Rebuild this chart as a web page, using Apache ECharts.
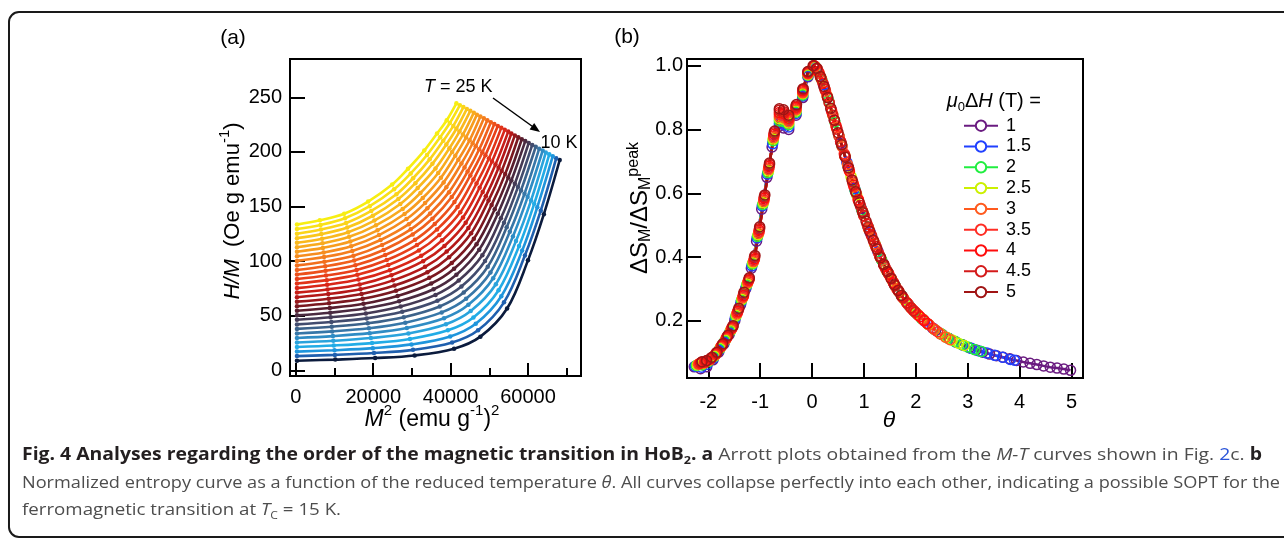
<!DOCTYPE html>
<html><head><meta charset="utf-8">
<script src="https://cdn.jsdelivr.net/npm/echarts@6/dist/echarts.min.js"></script>
<style>html,body{margin:0;padding:0;background:#fff}#c{width:1284px;height:540px}</style>
</head><body><div id="c"></div>
<script>
// ---------------- DATA ----------------
// Panel (a): Arrott plots, one curve per temperature (K)
const temperaturesK = [10,10.5,11,11.5,12,12.5,13,13.5,14,14.5,15,15.5,16,16.5,17,17.5,18,18.5,19,19.5,20,20.5,21,21.5,22,22.5,23,23.5,24,24.5,25];
// M^2 values, (emu g^-1)^2
const arrottM2 = [
[300,10200,20500,30700,40900,47700,54600,60000,64100,68200],
[300,10100,20200,30300,40400,47100,53800,59200,63300,67300],
[300,10000,19900,29900,39900,46500,53100,58500,62400,66400],
[300,9800,19700,29500,39300,45900,52400,57700,61600,65500],
[300,9700,19400,29100,38800,45200,51700,56900,60800,64600],
[300,9600,19100,28700,38300,44600,51000,56100,59900,63800],
[300,9400,18900,28300,37700,44000,50300,55300,59100,62900],
[300,9300,18600,27900,37200,43400,49600,54500,58200,62000],
[300,9200,18300,27500,36600,42800,48900,53800,57400,61100],
[300,9000,18100,27100,36100,42100,48200,53000,56600,60200],
[300,8900,17800,26700,35600,41500,47400,52200,55700,59300],
[300,8800,17500,26300,35000,40900,46700,51400,54900,58400],
[300,8600,17300,25900,34500,40300,46000,50600,54100,57500],
[300,8500,17000,25500,34000,39600,45300,49800,53200,56600],
[300,8400,16700,25100,33400,39000,44600,49100,52400,55700],
[300,8200,16500,24700,32900,38400,43900,48300,51600,54900],
[300,8100,16200,24300,32400,37800,43200,47500,50700,54000],
[300,8000,15900,23900,31800,37100,42500,46700,49900,53100],
[300,7800,15700,23500,31300,36500,41800,45900,49000,52200],
[300,7700,15400,23100,30800,35900,41000,45100,48200,51300],
[300,7600,15100,22700,30200,35300,40300,44400,47400,50400],
[300,7400,14900,22300,29700,34700,39600,43600,46500,49500],
[300,7300,14600,21900,29200,34000,38900,42800,45700,48600],
[300,7200,14300,21500,28600,33400,38200,42000,44900,47700],
[300,7000,14100,21100,28100,32800,37500,41200,44000,46800],
[300,6900,13800,20700,27600,32200,36800,40400,43200,46000],
[300,6800,13500,20300,27000,31500,36100,39700,42300,45100],
[300,6600,13300,19900,26500,30900,35300,38900,41500,44200],
[300,6500,13000,19500,26000,30300,34600,38100,40700,43300],
[300,6400,12700,19100,25400,29700,33900,37300,39800,42400],
[300,6200,12500,18700,24900,29000,33200,36500,39000,41500]
];
// H/M values, Oe g emu^-1
const arrottHM = [
[9,10,11.4,13.8,20,31,56.7,100.8,143,192.6],
[13.2,14.3,16,18.9,25.7,36.9,62.4,105.2,146.2,194.3],
[17.3,18.6,20.5,23.9,31.2,42.8,68,109.7,149.4,196.1],
[21.5,22.9,25.1,28.9,36.8,48.6,73.5,114,152.5,197.8],
[25.6,27.2,29.7,33.9,42.3,54.4,78.9,118.4,155.6,199.5],
[29.8,31.5,34.2,38.9,47.8,60.1,84.4,122.7,158.7,201.3],
[33.9,35.8,38.7,43.8,53.2,65.7,89.7,126.9,161.7,203],
[38.1,40.1,43.2,48.8,58.6,71.3,95,131.1,164.8,204.7],
[42.2,44.4,47.7,53.7,63.9,76.8,100.2,135.3,167.8,206.4],
[46.4,48.7,52.2,58.5,69.2,82.3,105.4,139.4,170.8,208.2],
[50.5,52.9,56.7,63.4,74.4,87.7,110.6,143.5,173.8,209.9],
[54.7,57.2,61.1,68.2,79.6,93.1,115.6,147.5,176.7,211.6],
[58.8,61.5,65.6,73,84.8,98.4,120.6,151.5,179.7,213.4],
[63,65.7,70,77.7,89.9,103.6,125.6,155.5,182.6,215.1],
[67.1,70,74.4,82.5,94.9,108.8,130.5,159.4,185.5,216.8],
[71.3,74.2,78.8,87.2,100,114,135.3,163.3,188.4,218.6],
[75.4,78.5,83.2,91.8,104.9,119.1,140.1,167.2,191.2,220.3],
[79.6,82.7,87.6,96.5,109.9,124.1,144.9,171,194,222],
[83.7,86.9,92,101.1,114.8,129.1,149.5,174.7,196.9,223.7],
[87.9,91.2,96.4,105.7,119.6,134,154.2,178.5,199.6,225.5],
[92,95.4,100.7,110.3,124.5,138.9,158.7,182.1,202.4,227.2],
[96.2,99.6,105,114.9,129.2,143.7,163.2,185.8,205.2,228.9],
[100.3,103.8,109.4,119.4,133.9,148.5,167.7,189.4,207.9,230.7],
[104.5,108,113.7,123.9,138.6,153.2,172.1,192.9,210.6,232.4],
[108.6,112.2,118,128.3,143.2,157.8,176.4,196.5,213.3,234.1],
[112.8,116.4,122.3,132.8,147.8,162.4,180.7,200,216,235.9],
[116.9,120.6,126.5,137.2,152.4,167,184.9,203.4,218.6,237.6],
[121.1,124.8,130.8,141.6,156.9,171.4,189.1,206.8,221.2,239.3],
[125.2,129,135,146,161.3,175.9,193.2,210.2,223.8,241],
[129.4,133.2,139.3,150.3,165.8,180.3,197.2,213.5,226.4,242.8],
[133.5,137.4,143.5,154.6,170.1,184.6,201.2,216.8,229,244.5]
];
// Panel (b): normalized entropy change vs reduced temperature, per field change (T)
const fieldLabels = ['1','1.5','2','2.5','3','3.5','4','4.5','5'];
const dS_1 = [[-2.27,0.056],[-2.15,0.05],[-2.03,0.056],[-1.91,0.078],[-1.8,0.102],[-1.7,0.128],[-1.6,0.157],[-1.49,0.2],[-1.38,0.25],[-1.28,0.3],[-1.17,0.365],[-1.07,0.45],[-0.97,0.55],[-0.87,0.65],[-0.77,0.745],[-0.63,0.81],[-0.55,0.805],[-0.45,0.8],[-0.31,0.845],[-0.18,0.9],[-0.08,0.965],
 [0.04,1.0],[0.17,0.962],[0.3,0.9],[0.43,0.829],[0.56,0.757],[0.69,0.686],[0.82,0.615],[0.95,0.552],[1.08,0.494],[1.21,0.441],[1.34,0.391],[1.47,0.349],[1.6,0.31],[1.73,0.278],[1.86,0.25],[1.99,0.227],[2.12,0.207],[2.25,0.188],[2.38,0.171],[2.51,0.157],[2.64,0.145],[2.77,0.134],[2.9,0.125],[3.03,0.116],[3.16,0.109],[3.29,0.102],[3.42,0.096],[3.55,0.091],[3.68,0.086],[3.81,0.081],[3.94,0.076],[4.07,0.071],[4.2,0.067],[4.33,0.063],[4.46,0.059],[4.59,0.055],[4.72,0.052],[4.85,0.049],[4.98,0.045]];
const dS_1p5 = [[-2.25,0.058],[-2.13,0.055],[-2.02,0.064],[-1.9,0.083],[-1.79,0.108],[-1.69,0.133],[-1.59,0.162],[-1.48,0.208],[-1.37,0.258],[-1.27,0.306],[-1.16,0.372],[-1.06,0.46],[-0.96,0.56],[-0.86,0.66],[-0.76,0.755],[-0.63,0.818],[-0.55,0.815],[-0.45,0.808],[-0.31,0.85],[-0.18,0.905],[-0.08,0.968],
 [0.07,0.995],[0.22,0.94],[0.37,0.862],[0.52,0.779],[0.67,0.697],[0.82,0.614],[0.97,0.543],[1.12,0.477],[1.27,0.417],[1.42,0.363],[1.57,0.319],[1.72,0.28],[1.87,0.248],[2.02,0.222],[2.17,0.199],[2.32,0.178],[2.47,0.161],[2.62,0.146],[2.77,0.134],[2.92,0.123],[3.07,0.114],[3.22,0.106],[3.37,0.099],[3.52,0.092],[3.67,0.086],[3.82,0.079],[3.9,0.077]];
const dS_2 = [[-2.23,0.06],[-2.12,0.062],[-2.0,0.072],[-1.89,0.088],[-1.78,0.112],[-1.68,0.137],[-1.58,0.166],[-1.47,0.214],[-1.36,0.264],[-1.26,0.312],[-1.15,0.378],[-1.05,0.465],[-0.95,0.565],[-0.85,0.665],[-0.75,0.765],[-0.63,0.827],[-0.55,0.825],[-0.45,0.815],[-0.31,0.854],[-0.18,0.908],[-0.08,0.97],
 [0.06,0.997],[0.19,0.954],[0.32,0.89],[0.44,0.823],[0.57,0.751],[0.7,0.68],[0.83,0.609],[0.96,0.547],[1.08,0.494],[1.21,0.441],[1.34,0.391],[1.47,0.349],[1.6,0.31],[1.72,0.28],[1.85,0.252],[1.98,0.228],[2.11,0.207],[2.24,0.189],[2.36,0.173],[2.49,0.159],[2.62,0.146],[2.75,0.136],[2.88,0.126],[3.0,0.118],[3.13,0.11],[3.26,0.104]];
const dS_2p5 = [[-2.21,0.062],[-2.1,0.066],[-1.99,0.076],[-1.88,0.09],[-1.77,0.115],[-1.67,0.14],[-1.57,0.17],[-1.46,0.218],[-1.35,0.268],[-1.25,0.316],[-1.14,0.382],[-1.04,0.47],[-0.94,0.57],[-0.84,0.67],[-0.75,0.77],[-0.63,0.834],[-0.55,0.832],[-0.45,0.82],[-0.31,0.858],[-0.18,0.912],[-0.08,0.972],
 [0.06,0.997],[0.17,0.962],[0.29,0.905],[0.4,0.845],[0.52,0.779],[0.63,0.718],[0.75,0.653],[0.86,0.595],[0.98,0.539],[1.09,0.489],[1.21,0.441],[1.32,0.398],[1.44,0.356],[1.55,0.325],[1.67,0.292],[1.78,0.266],[1.9,0.242],[2.01,0.224],[2.13,0.206],[2.24,0.189],[2.36,0.173],[2.47,0.161],[2.59,0.149],[2.7,0.14],[2.82,0.13],[2.93,0.123]];
const dS_3 = [[-2.19,0.064],[-2.08,0.068],[-1.97,0.078],[-1.87,0.093],[-1.76,0.118],[-1.66,0.143],[-1.56,0.173],[-1.45,0.222],[-1.34,0.272],[-1.24,0.32],[-1.13,0.386],[-1.03,0.475],[-0.93,0.575],[-0.84,0.675],[-0.74,0.775],[-0.63,0.84],[-0.55,0.838],[-0.45,0.825],[-0.31,0.862],[-0.18,0.915],[-0.08,0.974],
 [0.05,0.998],[0.16,0.966],[0.26,0.92],[0.37,0.862],[0.47,0.806],[0.58,0.746],[0.68,0.691],[0.79,0.631],[0.89,0.58],[1.0,0.53],[1.1,0.485],[1.21,0.441],[1.31,0.401],[1.42,0.363],[1.52,0.334],[1.63,0.301],[1.73,0.276],[1.84,0.254],[1.94,0.235],[2.05,0.218],[2.15,0.203],[2.26,0.187],[2.36,0.173],[2.47,0.159],[2.57,0.149],[2.66,0.141]];
const dS_3p5 = [[-2.17,0.066],[-2.07,0.07],[-1.96,0.08],[-1.86,0.095],[-1.75,0.12],[-1.65,0.146],[-1.55,0.176],[-1.44,0.226],[-1.33,0.276],[-1.23,0.324],[-1.12,0.39],[-1.02,0.48],[-0.93,0.58],[-0.83,0.68],[-0.74,0.78],[-0.63,0.847],[-0.55,0.844],[-0.45,0.83],[-0.31,0.866],[-0.18,0.918],[-0.08,0.976],
 [0.05,0.998],[0.14,0.976],[0.24,0.93],[0.33,0.884],[0.43,0.829],[0.52,0.779],[0.62,0.724],[0.71,0.675],[0.81,0.62],[0.9,0.575],[1.0,0.53],[1.09,0.49],[1.19,0.449],[1.28,0.413],[1.38,0.377],[1.47,0.349],[1.57,0.319],[1.66,0.295],[1.76,0.271],[1.85,0.252],[1.95,0.233],[2.04,0.219],[2.14,0.204],[2.23,0.191],[2.33,0.177],[2.42,0.166]];
const dS_4 = [[-2.15,0.068],[-2.05,0.072],[-1.95,0.082],[-1.85,0.098],[-1.74,0.122],[-1.64,0.149],[-1.54,0.179],[-1.43,0.23],[-1.32,0.28],[-1.22,0.328],[-1.11,0.395],[-1.02,0.485],[-0.92,0.585],[-0.83,0.685],[-0.73,0.785],[-0.63,0.853],[-0.55,0.85],[-0.45,0.835],[-0.31,0.87],[-0.18,0.922],[-0.08,0.978],
 [0.04,1.0],[0.12,0.982],[0.21,0.945],[0.29,0.905],[0.38,0.856],[0.46,0.812],[0.55,0.762],[0.63,0.718],[0.72,0.669],[0.8,0.625],[0.89,0.58],[0.97,0.544],[1.06,0.503],[1.14,0.469],[1.23,0.433],[1.31,0.401],[1.4,0.37],[1.48,0.346],[1.57,0.319],[1.65,0.297],[1.74,0.276],[1.82,0.258],[1.91,0.24],[1.99,0.227],[2.08,0.213],[2.16,0.201],[2.22,0.192]];
const dS_4p5 = [[-2.13,0.07],[-2.04,0.074],[-1.94,0.084],[-1.84,0.1],[-1.73,0.125],[-1.63,0.152],[-1.53,0.182],[-1.42,0.235],[-1.32,0.285],[-1.21,0.332],[-1.11,0.4],[-1.01,0.49],[-0.92,0.59],[-0.82,0.69],[-0.73,0.79],[-0.63,0.86],[-0.55,0.856],[-0.45,0.84],[-0.31,0.874],[-0.18,0.925],[-0.08,0.98],
 [0.03,1.0],[0.1,0.99],[0.18,0.958],[0.25,0.925],[0.33,0.884],[0.4,0.845],[0.48,0.801],[0.55,0.762],[0.63,0.718],[0.7,0.68],[0.78,0.636],[0.85,0.6],[0.93,0.562],[1.0,0.53],[1.08,0.494],[1.15,0.465],[1.23,0.433],[1.3,0.405],[1.38,0.377],[1.45,0.355],[1.53,0.331],[1.6,0.31],[1.68,0.29],[1.75,0.273],[1.83,0.256],[1.9,0.242],[1.96,0.232]];
const dS_5 = [[-2.12,0.072],[-2.03,0.076],[-1.93,0.086],[-1.83,0.102],[-1.72,0.128],[-1.62,0.155],[-1.52,0.185],[-1.41,0.24],[-1.31,0.29],[-1.21,0.335],[-1.1,0.405],[-1.01,0.495],[-0.91,0.595],[-0.82,0.695],[-0.72,0.795],[-0.63,0.865],[-0.55,0.862],[-0.45,0.845],[-0.3,0.878],[-0.17,0.928],[-0.08,0.982],
 [0.02,1.0],[0.09,0.992],[0.16,0.966],[0.23,0.935],[0.3,0.9],[0.36,0.867],[0.43,0.829],[0.5,0.79],[0.57,0.752],[0.64,0.713],[0.7,0.68],[0.77,0.642],[0.84,0.605],[0.91,0.57],[0.98,0.539],[1.04,0.512],[1.11,0.481],[1.18,0.453],[1.25,0.425],[1.32,0.398],[1.38,0.377],[1.45,0.355],[1.52,0.334],[1.59,0.313],[1.66,0.295],[1.72,0.28]];
// tick values
const xTicksA = [0,20000,40000,60000];
const xMinorTicksA = [10000,30000,50000,70000];
const yTicksA = [0,50,100,150,200,250];
const xTicksB = [-2,-1,0,1,2,3,4,5];
const yTicksB = [0.2,0.4,0.6,0.8,1.0];

// ---------------- STYLE ----------------
const FONT = "'Liberation Sans', Arial, sans-serif";
const CAP_FONT = "'Open Sans', 'Noto Sans', sans-serif";
const aColorStops = [[0,'#0b1b3d'],[1,'#1f5fae'],[2,'#1f95dc'],[3,'#22ace6'],[4,'#2aa3dc'],[5,'#2f8cc4'],[6,'#3777a8'],[7,'#3c628a'],[8,'#424c6e'],[9,'#453a55'],[10,'#4a2a40'],[11,'#581e2e'],[12,'#7a1820'],[14,'#b41818'],[16,'#d92618'],[18,'#e8401a'],[20,'#f0601c'],[22,'#f47e1e'],[24,'#f79c1f'],[26,'#f9b81e'],[28,'#fbd41a'],[30,'#f7ee12']];
function hex2rgb(h){return [parseInt(h.substr(1,2),16),parseInt(h.substr(3,2),16),parseInt(h.substr(5,2),16)];}
function colorAt(k){
  for(let i=0;i<aColorStops.length-1;i++){
    const [k0,c0]=aColorStops[i],[k1,c1]=aColorStops[i+1];
    if(k>=k0&&k<=k1){const t=(k-k0)/(k1-k0);const a=hex2rgb(c0),b=hex2rgb(c1);
      return 'rgb('+a.map((v,j)=>Math.round(v+(b[j]-v)*t)).join(',')+')';}
  }
  return aColorStops[aColorStops.length-1][1];
}
const bColors = ['#6a1b80','#2040ff','#20ee40','#ccf000','#ff5a1e','#ff2d24','#ff0c0c','#d41a1a','#a01414'];
const bData = [dS_1,dS_1p5,dS_2,dS_2p5,dS_3,dS_3p5,dS_4,dS_4p5,dS_5];

const seriesA = arrottM2.map((xs,k)=>({
  type:'line', name:'T '+temperaturesK[k]+' K', xAxisIndex:0, yAxisIndex:0,
  data: xs.map((x,j)=>[x, arrottHM[k][j]]),
  smooth:0.35, symbol:'circle', symbolSize:4.5, showSymbol:true, silent:true,
  lineStyle:{width:2.6,color:colorAt(k)}, itemStyle:{color:colorAt(k)}, z:2
}));
const seriesB = bData.map((d,i)=>({
  type:'line', name:fieldLabels[i], xAxisIndex:2, yAxisIndex:1, data:d,
  symbol:'circle', symbolSize:10, showSymbol:true, silent:true,
  lineStyle:{width:2.5,color:bColors[i]},
  itemStyle:{color:'rgba(255,255,255,0)', borderColor:bColors[i], borderWidth:1.5}, z:3
}));

// caption helpers
function measure(segs){
  const ctx=document.createElement('canvas').getContext('2d');let w=0;
  for(const s of segs){ctx.font=s[1];w+=ctx.measureText(s[0]).width;} return w;
}
const CS=17, CSS=11;
const fB='bold '+CS+'px '+CAP_FONT, fBs='bold '+CSS+'px '+CAP_FONT, fN=CS+'px '+CAP_FONT, fI='italic '+CS+'px '+CAP_FONT, fNs=CSS+'px '+CAP_FONT;
const cap1=[['Fig. 4 Analyses regarding the order of the magnetic transition in HoB',fB,'b'],['2',fBs,'bs'],['. a',fB,'b'],[' Arrott plots obtained from the ',fN,'n'],['M-T',fI,'ni'],[' curves shown in Fig. ',fN,'n'],['2',fN,'l'],['c. ',fN,'n'],['b',fB,'b']];
const cap2=[['Normalized entropy curve as a function of the reduced temperature ',fN,'n'],['θ',fI,'ni'],['. All curves collapse perfectly into each other, indicating a possible SOPT for the',fN,'n']];
const cap3=[['ferromagnetic transition at ',fN,'n'],['T',fI,'ni'],['C',fNs,'ns'],[' = 15 K.',fN,'n']];
const capRich={
  b:{fontFamily:CAP_FONT,fontWeight:'bold',fontSize:CS,fill:'#231f20',lineHeight:22},
  bs:{fontFamily:CAP_FONT,fontWeight:'bold',fontSize:CSS,fill:'#231f20',verticalAlign:'bottom'},
  n:{fontFamily:CAP_FONT,fontSize:CS,fill:'#4d4d4d',lineHeight:22},
  ni:{fontFamily:CAP_FONT,fontSize:CS,fontStyle:'italic',fill:'#4d4d4d',lineHeight:22},
  ns:{fontFamily:CAP_FONT,fontSize:CSS,fill:'#4d4d4d',verticalAlign:'bottom'},
  l:{fontFamily:CAP_FONT,fontSize:CS,fill:'#2b55d9',lineHeight:22}
};
function capText(segs){return segs.map(s=>'{'+s[2]+'|'+s[0]+'}').join('');}
function capEl(segs,y,target){
  return {type:'text', x:22, y:y, scaleX:target/measure(segs), scaleY:1,
    style:{text:capText(segs), rich:capRich, textAlign:'left', align:'left', textVerticalAlign:'middle', verticalAlign:'middle', font:fN, fill:'#4d4d4d'}};
}
function makeRich(size,sub,lhf){
  const lh=Math.round(size*(lhf||1.45));
  return {
    i:{fontFamily:FONT,fontSize:size,fontStyle:'italic',fill:'#000',lineHeight:lh},
    sup:{fontFamily:FONT,fontSize:sub,fill:'#000',verticalAlign:'top'},
    sub:{fontFamily:FONT,fontSize:sub,fill:'#000',verticalAlign:'bottom'},
    n:{fontFamily:FONT,fontSize:size,fill:'#000',lineHeight:lh}
  };
}
function lbl(text,x,y,rot,size,sub,lhf){
  return {type:'text', x:x, y:y, rotation:rot||0, z:10,
    style:{text:text, rich:makeRich(size,sub,lhf), font:size+'px '+FONT, fill:'#000', textAlign:'center', align:'center', textVerticalAlign:'middle', verticalAlign:'middle'}};
}

const chart = echarts.init(document.getElementById('c'), null, {renderer:'canvas', width:1284, height:540});
const tickStyle = {color:'#000', width:2};
const labelStyle = {color:'#000', fontSize:20, fontFamily:FONT};
const noLine = {show:false, onZero:false};
chart.setOption({
  animation:false,
  backgroundColor:'#fff',
  grid:[
    {left:290, top:59, width:291, height:317, show:true, borderColor:'#000', borderWidth:2, backgroundColor:'transparent', containLabel:false, outerBoundsMode:'none'},
    {left:687, top:59, width:396, height:319, show:true, borderColor:'#000', borderWidth:2, backgroundColor:'transparent', containLabel:false, outerBoundsMode:'none'}
  ],
  xAxis:[
    {gridIndex:0, type:'value', position:'bottom', min:-1500, max:73700, axisLine:noLine, splitLine:{show:false},
     axisTick:{show:true, inside:true, length:13, lineStyle:tickStyle, customValues:xTicksA},
     axisLabel:Object.assign({customValues:xTicksA, margin:11, formatter:v=>String(v)}, labelStyle)},
    {gridIndex:0, type:'value', position:'bottom', min:-1500, max:73700, axisLine:noLine, splitLine:{show:false},
     axisTick:{show:true, inside:true, length:8, lineStyle:tickStyle, customValues:xMinorTicksA},
     axisLabel:{show:false}},
    {gridIndex:1, type:'value', position:'bottom', min:-2.41, max:5.22, axisLine:noLine, splitLine:{show:false},
     axisTick:{show:true, inside:true, length:15, lineStyle:tickStyle, customValues:xTicksB},
     axisLabel:Object.assign({customValues:xTicksB, margin:14, formatter:v=>String(v)}, labelStyle)}
  ],
  yAxis:[
    {gridIndex:0, type:'value', position:'left', min:-5, max:285, axisLine:noLine, splitLine:{show:false},
     axisTick:{show:true, inside:true, length:15, lineStyle:tickStyle, customValues:yTicksA},
     axisLabel:Object.assign({customValues:yTicksA, margin:8, formatter:v=>String(v)}, labelStyle)},
    {gridIndex:1, type:'value', position:'left', min:0.021, max:1.021, axisLine:noLine, splitLine:{show:false},
     axisTick:{show:true, inside:true, length:14, lineStyle:tickStyle, customValues:yTicksB},
     axisLabel:Object.assign({customValues:yTicksB, margin:4, formatter:v=>v.toFixed(1)}, labelStyle)}
  ],
  legend:{data:fieldLabels, orient:'vertical', left:963, top:116.7, padding:0, itemWidth:34, itemHeight:13, itemGap:2.8,
    selectedMode:false, itemStyle:{color:'#fff'},
    textStyle:{fontSize:18, color:'#000', fontFamily:FONT, padding:[0,0,0,3]}},
  series: seriesA.concat(seriesB),
  graphic:[
    {type:'rect', z:-1, shape:{x:9,y:12,width:1290,height:525,r:10}, style:{fill:'none', stroke:'#1a1a1a', lineWidth:2}},
    lbl('{n|(a)}',233,38,0,21,14),
    lbl('{n|(b)}',627,37,0,21,14),
    lbl('{i|M}{sup|2}{n| (emu g}{sup|-1}{n|)}{sup|2}',432,420,0,23,15),
    lbl('{i|H/M}{n|  (Oe g emu}{sup|-1}{n|)}',233,211,Math.PI/2,22,15),
    lbl('{i|θ}',889,421,0,23,15),
    lbl('{n|ΔS}{sub|M}{n|/ΔS}{sub|M}{sup|peak}',640,208,Math.PI/2,24,16,1.15),
    {type:'text', x:424, y:87, z:10, style:{text:'{ti|T}{tn| = 25 K}', rich:{ti:{fontFamily:FONT,fontSize:18,fontStyle:'italic',fill:'#000'},tn:{fontFamily:FONT,fontSize:18,fill:'#000'}}, textAlign:'left', align:'left', textVerticalAlign:'middle', verticalAlign:'middle'}},
    {type:'text', x:559, y:143.5, z:10, style:{text:'10 K', font:'18px '+FONT, fill:'#000', textAlign:'center', align:'center', textVerticalAlign:'middle', verticalAlign:'middle'}},
    {type:'line', z:10, shape:{x1:493,y1:98,x2:536,y2:129}, style:{stroke:'#000', lineWidth:1.5}},
    {type:'polygon', z:10, shape:{points:[[540,132],[529.6,129.5],[534.2,122.9]]}, style:{fill:'#000'}},
    {type:'text', x:946.7, y:101, z:10, style:{text:'{i|μ}{s|0}{n|Δ}{i|H}{n| (T) =}', rich:{i:{fontFamily:FONT,fontSize:20,fontStyle:'italic',fill:'#000',lineHeight:26},n:{fontFamily:FONT,fontSize:20,fill:'#000',lineHeight:26},s:{fontFamily:FONT,fontSize:13,fill:'#000',verticalAlign:'bottom'}}, textAlign:'left', align:'left', textVerticalAlign:'middle', verticalAlign:'middle'}},
    capEl(cap1,455,1240),
    capEl(cap2,483,1258),
    capEl(cap3,510,319)
  ]
});
</script></body></html>
